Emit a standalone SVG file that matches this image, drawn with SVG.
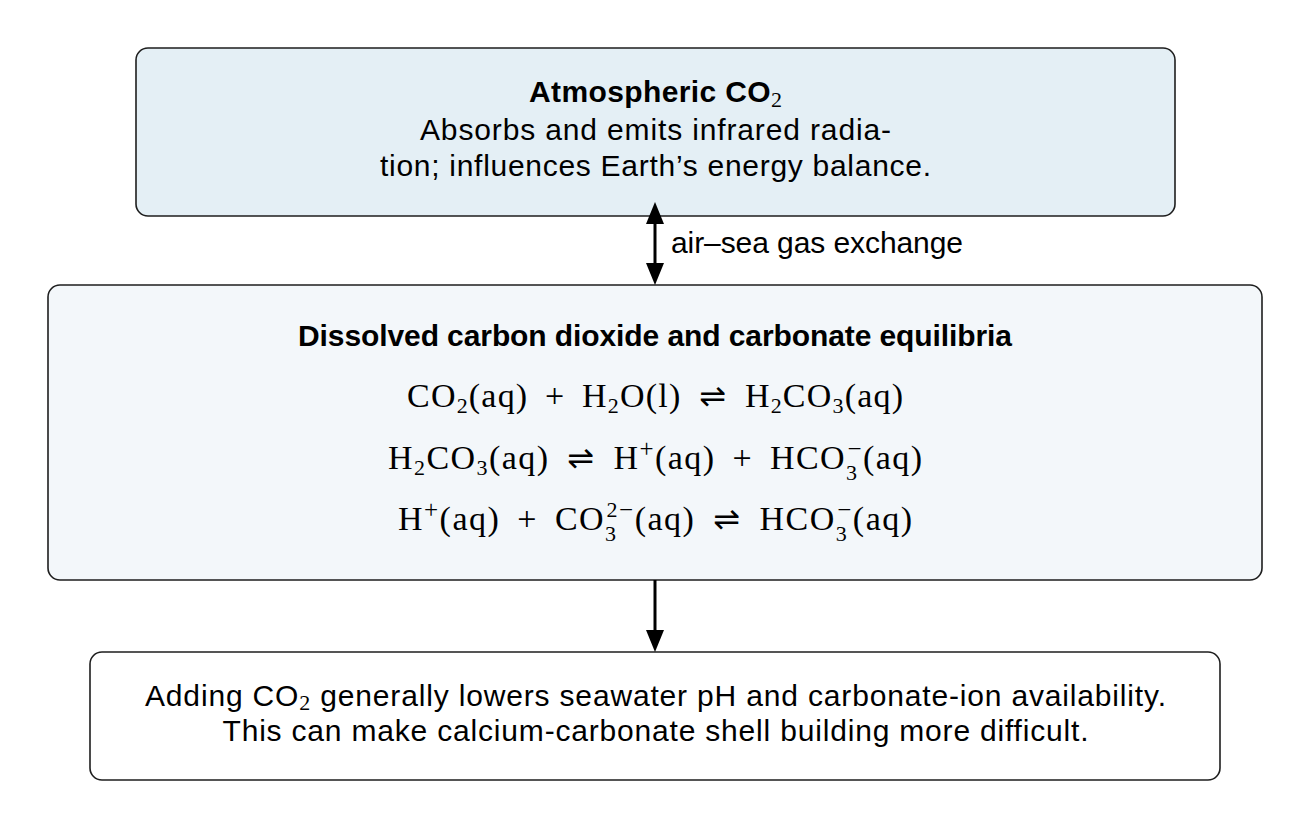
<svg xmlns="http://www.w3.org/2000/svg" width="1311" height="831" viewBox="0 0 1311 831">
<style>
.box{stroke:#1e1e1e;stroke-width:1.6}
.t{font-family:"Liberation Sans",Arial,sans-serif;font-size:30px;fill:#000}
.b{font-weight:bold}
.m{font-family:"Liberation Serif","Times New Roman",serif;font-size:34px;fill:#000}
.sb{font-family:"Liberation Serif","Times New Roman",serif;font-size:22px;font-weight:normal}
.sp{font-family:"Liberation Serif","Times New Roman",serif;font-size:25px}
.ar{font-family:"DejaVu Sans",sans-serif;font-size:32px}
.conn{stroke:#000;stroke-width:3;fill:none}
</style>
<defs>
<marker id="ah" viewBox="0 0 22 18" refX="0" refY="9" markerWidth="22" markerHeight="18" markerUnits="userSpaceOnUse" orient="auto-start-reverse">
<path d="M0,0 L22,9 L0,18 z" fill="#000"/>
</marker>
</defs>
<rect width="1311" height="831" fill="#fff"/>
<g id="atmosphere">
<rect class="box" x="136" y="48" width="1039" height="168" rx="12" fill="#e4eff5"/>
<text class="t b" x="655.5" y="102" text-anchor="middle" textLength="253" lengthAdjust="spacing">Atmospheric CO<tspan class="sb" dy="5">2</tspan></text>
<text class="t" x="655.5" y="140" text-anchor="middle" textLength="471" lengthAdjust="spacing">Absorbs and emits infrared radia-</text>
<text class="t" x="655.5" y="176" text-anchor="middle" textLength="551" lengthAdjust="spacing">tion; influences Earth’s energy balance.</text>
</g>
<g id="ocean">
<rect class="box" x="48" y="285" width="1214" height="295" rx="12" fill="#f3f7fa"/>
<text class="t b" x="655" y="346" text-anchor="middle" textLength="714" lengthAdjust="spacing">Dissolved carbon dioxide and carbonate equilibria</text>
<text class="m" x="655" y="407" text-anchor="middle" textLength="496" lengthAdjust="spacing">CO<tspan class="sb" dy="6">2</tspan><tspan dy="-6">(aq)</tspan><tspan dx="7"> + </tspan><tspan dx="7">H</tspan><tspan class="sb" dy="6">2</tspan><tspan dy="-6">O(l)</tspan><tspan dx="8"> </tspan><tspan class="ar">⇌</tspan><tspan dx="8"> H</tspan><tspan class="sb" dy="6">2</tspan><tspan dy="-6">CO</tspan><tspan class="sb" dy="6">3</tspan><tspan dy="-6">(aq)</tspan></text>
<text class="m" x="655" y="469" text-anchor="middle" textLength="534" lengthAdjust="spacing">H<tspan class="sb" dy="6">2</tspan><tspan dy="-6">CO</tspan><tspan class="sb" dy="6">3</tspan><tspan dy="-6">(aq)</tspan><tspan dx="8"> </tspan><tspan class="ar">⇌</tspan><tspan dx="8"> H</tspan><tspan class="sp" dy="-12">+</tspan><tspan dy="12">(aq)</tspan><tspan dx="7"> + </tspan><tspan dx="7">HCO</tspan><tspan class="sb" dy="11">3</tspan><tspan class="sp" dx="-11" dy="-23">−</tspan><tspan dy="12">(aq)</tspan></text>
<text class="m" x="655" y="530" text-anchor="middle" textLength="514" lengthAdjust="spacing">H<tspan class="sp" dy="-12">+</tspan><tspan dy="12">(aq)</tspan><tspan dx="7"> + </tspan><tspan dx="7">CO</tspan><tspan class="sb" dy="11">3</tspan><tspan class="sb" dx="-11" dy="-24">2</tspan><tspan class="sp" dy="1">−</tspan><tspan dy="12">(aq)</tspan><tspan dx="8"> </tspan><tspan class="ar">⇌</tspan><tspan dx="8"> HCO</tspan><tspan class="sb" dy="11">3</tspan><tspan class="sp" dx="-11" dy="-23">−</tspan><tspan dy="12">(aq)</tspan></text>
</g>
<g id="effects">
<rect class="box" x="90" y="652" width="1130" height="128" rx="12" fill="#fff"/>
<text class="t" x="655.5" y="706" text-anchor="middle" textLength="1021" lengthAdjust="spacing">Adding CO<tspan class="sb" dy="4">2</tspan><tspan dy="-4"> generally lowers seawater pH and carbonate-ion availability.</tspan></text>
<text class="t" x="655.5" y="741" text-anchor="middle" textLength="866" lengthAdjust="spacing">This can make calcium-carbonate shell building more difficult.</text>
</g>
<g id="connectors">
<line class="conn" x1="655" y1="224" x2="655" y2="263" marker-start="url(#ah)" marker-end="url(#ah)"/>
<text class="t" x="671" y="253" textLength="292" lengthAdjust="spacing">air–sea gas exchange</text>
<line class="conn" x1="655" y1="580" x2="655" y2="630" marker-end="url(#ah)"/>
</g>
</svg>
